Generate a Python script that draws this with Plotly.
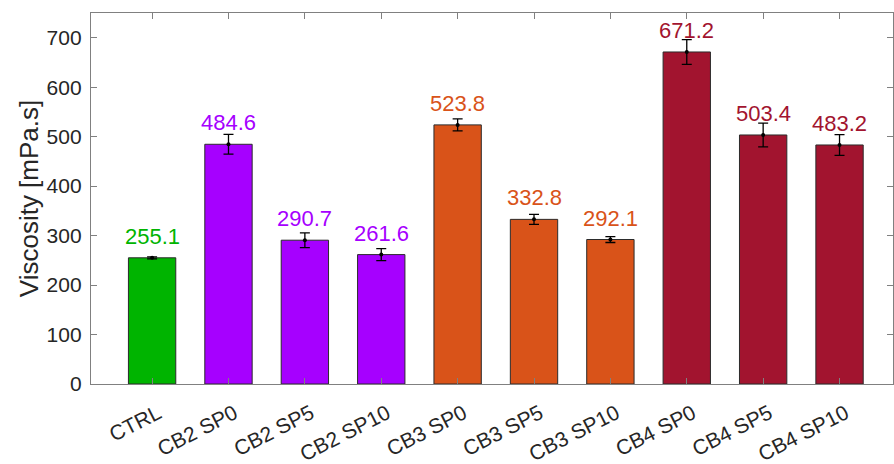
import plotly.graph_objects as go

categories = ["CTRL", "CB2 SP0", "CB2 SP5", "CB2 SP10", "CB3 SP0", "CB3 SP5",
              "CB3 SP10", "CB4 SP0", "CB4 SP5", "CB4 SP10"]
viscosity = [255.1, 484.6, 290.7, 261.6, 523.8, 332.8, 292.1, 671.2, 503.4, 483.2]
errors = [2, 20, 15, 12, 12, 10, 6, 25, 24, 21]
bar_colors = ["#00B400", "#A600FF", "#A600FF", "#A600FF", "#D95319", "#D95319",
              "#D95319", "#A2142F", "#A2142F", "#A2142F"]
y_ticks = [0, 100, 200, 300, 400, 500, 600, 700]

FONT = "Liberation Sans, Arial, sans-serif"
AX = "#808080"
TXT = "#262626"

fig = go.Figure()
fig.add_trace(go.Bar(
    x=categories, y=viscosity, width=0.62,
    marker=dict(color=bar_colors, line=dict(color="#2b2b2b", width=1)),
    showlegend=False, hoverinfo="skip",
))
fig.add_trace(go.Scatter(
    x=categories, y=viscosity, mode="markers",
    marker=dict(color="black", size=4),
    error_y=dict(type="data", array=errors, color="black", thickness=1.3, width=5),
    showlegend=False, hoverinfo="skip",
))

for c, v, e, col in zip(categories, viscosity, errors, bar_colors):
    fig.add_annotation(
        x=c, y=v + 14, text=f"{v:.1f}", showarrow=False,
        yanchor="bottom", xanchor="center",
        font=dict(family=FONT, size=22, color=col),
    )

fig.update_layout(
    width=894, height=464,
    margin=dict(l=91, r=1, t=13, b=80),
    plot_bgcolor="white", paper_bgcolor="white",
    font=dict(family=FONT, color=TXT),
    bargap=0.2,
)
fig.update_xaxes(
    range=[-0.8, 9.7], showgrid=False, zeroline=False, automargin=False,
    showline=True, linecolor=AX, linewidth=1.3, mirror="ticks",
    ticks="inside", ticklen=6, tickcolor=AX, tickwidth=1,
    tickangle=-27, ticklabelstandoff=8, ticklabelshift=6,
    tickfont=dict(family=FONT, size=21, color=TXT),
)
fig.update_yaxes(
    range=[0, 750], tickvals=y_ticks, showgrid=False, zeroline=False, automargin=False,
    showline=True, linecolor=AX, linewidth=1.3, mirror="ticks",
    ticks="inside", ticklen=6, tickcolor=AX, tickwidth=1,
    ticklabelstandoff=4,
    tickfont=dict(family=FONT, size=21, color=TXT),
    title=dict(text="Viscosity [mPa.s]", font=dict(family=FONT, size=26, color=TXT), standoff=0),
)

fig.write_html("out.html", config={"displayModeBar": False},
               post_script="document.body.style.margin='0';document.body.style.overflow='hidden';")
